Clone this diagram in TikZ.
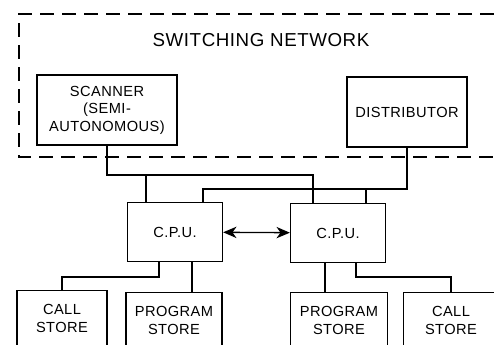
\documentclass[tikz,border=0pt]{standalone}
\usepackage{fontspec}
\setmainfont{Liberation Sans}[LetterSpace=3]
\usetikzlibrary{arrows.meta}

\begin{document}
\begin{tikzpicture}[
    x=0.03cm, y=-0.03cm,
    font=\fontsize{12.5}{15}\selectfont,
    unit/.style={draw, line width=1.1pt, align=center, inner sep=0pt},
    cpu/.style={unit, minimum width=2.85cm, minimum height=1.75cm},
    store/.style={unit, anchor=north, minimum height=1.68cm},
    wire/.style={line width=1.1pt},
    network/.style={line width=1.1pt, dash pattern=on 0.42cm off 0.24cm},
    link/.style={wire, {Stealth[length=4mm,width=3.4mm,inset=1.2mm]}-{Stealth[length=4mm,width=3.4mm,inset=1.2mm]}}
]
\useasboundingbox (0,0) rectangle (494,345);
\clip (0,0) rectangle (494,345);

% switching network
\draw[network] (494,14) -- (19,14) -- (19,157) -- (494,157);
\node[anchor=base] (title) at (261,47) {\fontsize{16}{19}\selectfont SWITCHING NETWORK};

\node[unit, minimum width=4.2cm, minimum height=2.1cm] (scanner) at (107,110) {SCANNER\\(SEMI-\\AUTONOMOUS)};
\node[unit, minimum width=3.6cm, minimum height=2.1cm] (distributor) at (407,112) {DISTRIBUTOR};

% processors
\node[cpu] (cpuA) at (175,232) {C.P.U.};
\node[cpu] (cpuB) at (338,233) {C.P.U.};

% stores
\node[store, minimum width=2.7cm] (callA) at (62,290) {CALL\\STORE};
\node[store, minimum width=2.88cm] (progA) at (174,292) {PROGRAM\\STORE};
\node[store, minimum width=2.9cm] (progB) at (339,292) {PROGRAM\\STORE};
\node[store, minimum width=2.85cm] (callB) at (451,292) {CALL\\STORE};

% scanner and distributor buses
\coordinate (sbus) at (313,175);
\coordinate (sjoin) at (146,175);
\coordinate (dbus) at (203,189);
\coordinate (djoin) at (366,189);
\draw[wire] (scanner.south) |- (sbus) -- (sbus |- cpuB.north);
\draw[wire] (sjoin) -- (sjoin |- cpuA.north);
\draw[wire] (distributor.south) |- (dbus) -- (dbus |- cpuA.north);
\draw[wire] (djoin) -- (djoin |- cpuB.north);

\draw[link] (cpuA) -- (cpuB);

% store connections
\coordinate (ajoin) at (159,277);
\coordinate (bjoin) at (356,277);
\draw[wire] (ajoin |- cpuA.south) -- (ajoin) -| (callA.north);
\draw[wire] ([xshift=0.51cm]cpuA.south) -- ([xshift=0.51cm]cpuA.south |- progA.north);
\draw[wire] ([xshift=-0.39cm]cpuB.south) -- ([xshift=-0.39cm]cpuB.south |- progB.north);
\draw[wire] (bjoin |- cpuB.south) -- (bjoin) -| (callB.north);

\end{tikzpicture}
\end{document}
